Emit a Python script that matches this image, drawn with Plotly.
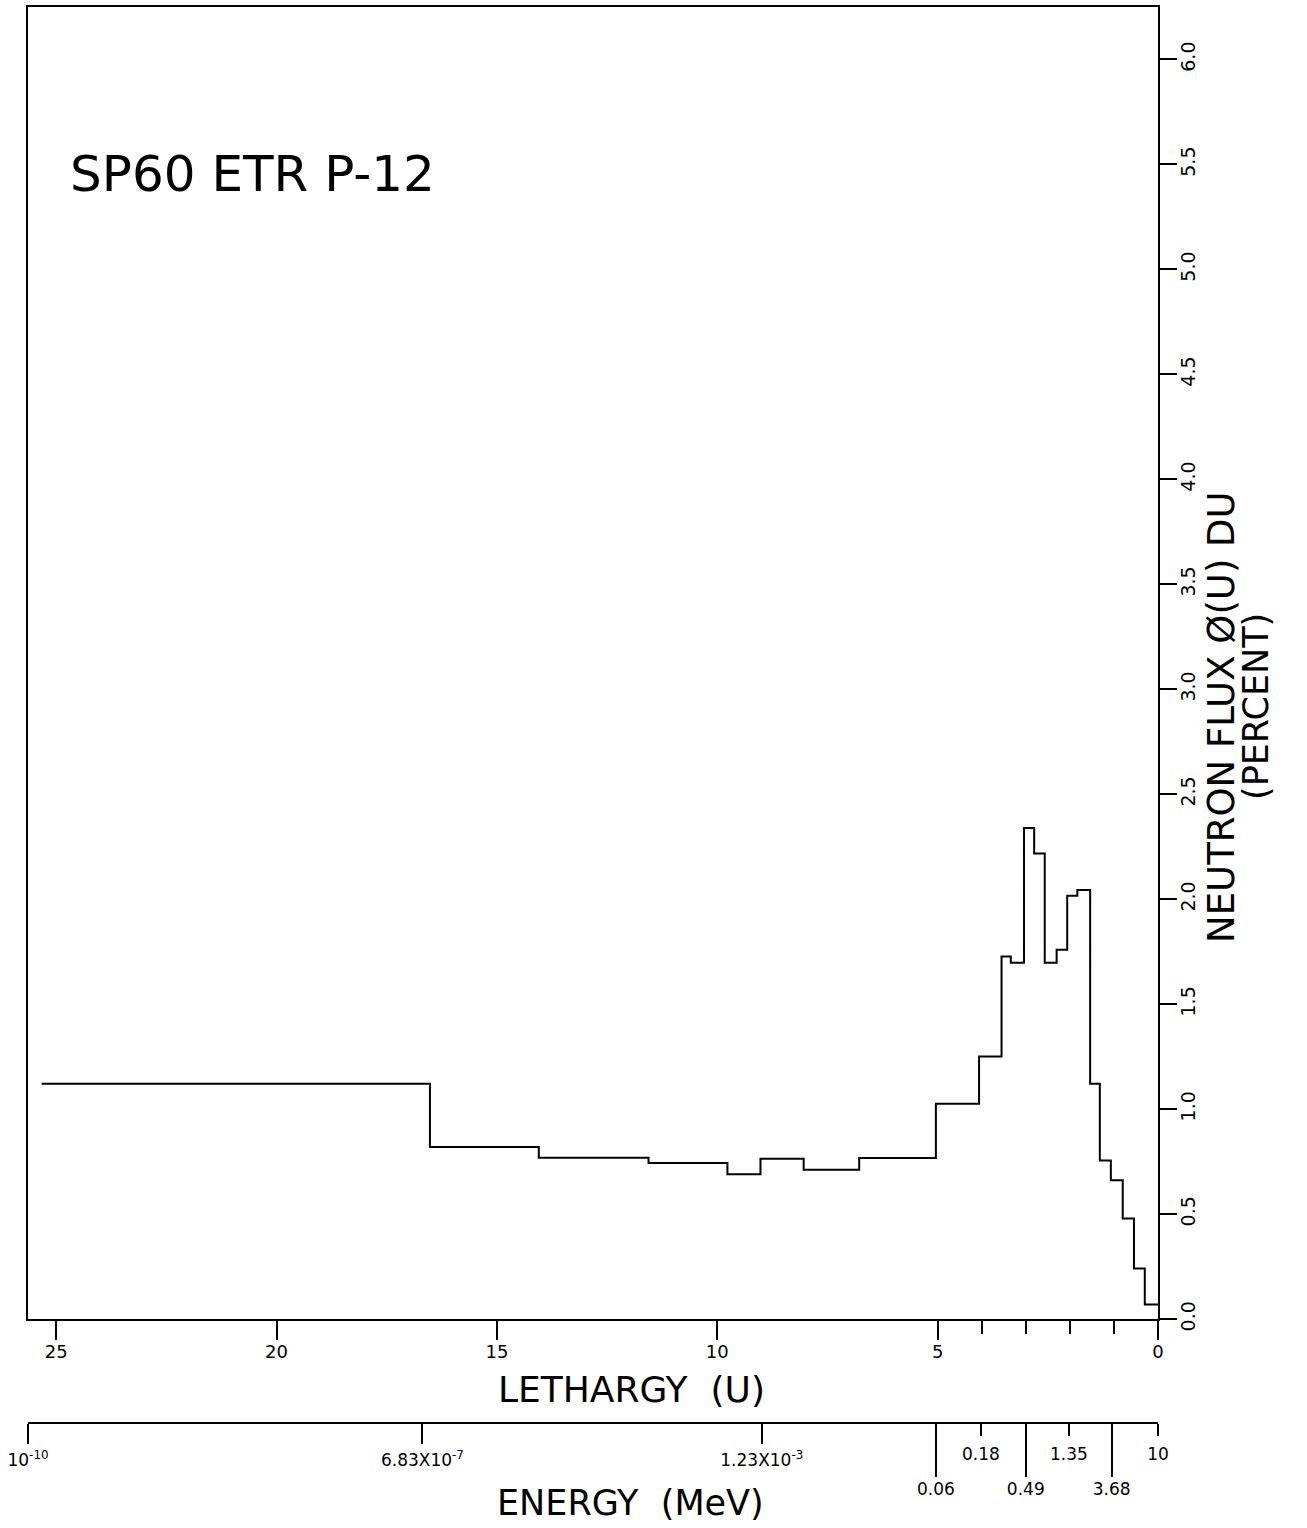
import plotly.graph_objects as go

# ---------------- data ----------------
# lethargy group boundaries (U), high lethargy -> low lethargy
edges_u = [25.33, 16.52, 14.05, 11.56, 9.77, 9.02, 8.04, 6.78, 5.04, 4.06,
           3.55, 3.34, 3.04, 2.81, 2.57, 2.30, 2.06, 1.83, 1.54, 1.32,
           1.07, 0.80, 0.545, 0.30, 0.0]
# neutron flux per group (percent)
flux = [1.121, 0.820, 0.769, 0.744, 0.690, 0.764, 0.712, 0.767, 1.026, 1.251,
        1.727, 1.697, 2.339, 2.218, 1.697, 1.759, 2.017, 2.044, 1.121, 0.756,
        0.661, 0.479, 0.241, 0.070]

leth_ticks = [25, 20, 15, 10, 5, 0]
leth_minor = [4, 3, 2, 1]
flux_ticks = [0.0, 0.5, 1.0, 1.5, 2.0, 2.5, 3.0, 3.5, 4.0, 4.5, 5.0, 5.5, 6.0]
flux_ticktext = ["0.0", "0.5", "1.0", "1.5", "2.0", "2.5", "3.0", "3.5",
                 "4.0", "4.5", "5.0", "5.5", "6.0"]

# energy scale (MeV) ticks placed at lethargy positions
energy_a_u = [25.64, 16.69, 8.99]
energy_a_text = ["10<sup>-10</sup>", "6.83X10<sup>-7</sup>", "1.23X10<sup>-3</sup>"]
energy_b_u = [4.02, 2.02, 0.0]
energy_b_text = ["0.18", "1.35", "10"]
energy_c_u = [5.04, 3.00, 1.05]
energy_c_text = ["0.06", "0.49", "3.68"]

X_RANGE = [25.64, 0.0]
Y_RANGE = [0.0, 6.25]

FONT = "DejaVu Sans"
BLACK = "#000000"

fig = go.Figure()

fig.add_trace(go.Scatter(
    x=edges_u,
    y=flux + [flux[-1]],
    mode="lines",
    line=dict(color=BLACK, width=2, shape="hv"),
    showlegend=False,
    hoverinfo="skip",
))

# empty traces to activate the energy axes
for ax in ["x2", "x3", "x4"]:
    fig.add_trace(go.Scatter(x=[None], y=[None], xaxis=ax, yaxis="y",
                             mode="lines", showlegend=False, hoverinfo="skip"))

W, H = 1307, 1528
ML, MR, MT, MB = 28, 149, 5, 105
paper_h = H - MT - MB
plot_bottom_px = 1319
dom0 = (H - MB - plot_bottom_px) / paper_h

common_energy = dict(
    overlaying="x", anchor="free", position=0, range=X_RANGE,
    autorange=False, tickmode="array", ticks="outside",
    tickcolor=BLACK, tickwidth=1.5, showgrid=False, zeroline=False,
    tickfont=dict(family=FONT, size=17, color=BLACK),
)

fig.update_layout(
    width=W, height=H,
    margin=dict(l=ML, r=MR, t=MT, b=MB),
    paper_bgcolor="white", plot_bgcolor="white",
    xaxis=dict(
        range=X_RANGE, autorange=False,
        tickmode="array", tickvals=leth_ticks,
        ticktext=[str(v) for v in leth_ticks],
        ticks="outside", ticklen=19, tickwidth=1.5, tickcolor=BLACK,
        ticklabelstandoff=-4,
        minor=dict(tickmode="array", tickvals=leth_minor, ticks="outside",
                   ticklen=13, tickwidth=1.5, tickcolor=BLACK),
        showline=True, linecolor=BLACK, linewidth=2, mirror=True,
        showgrid=False, zeroline=False, anchor="y",
        tickfont=dict(family=FONT, size=18, color=BLACK),
    ),
    yaxis=dict(
        range=Y_RANGE, autorange=False, domain=[dom0, 1],
        side="right", anchor="x",
        tickmode="array", tickvals=flux_ticks, ticktext=flux_ticktext,
        ticks="outside", ticklen=17, tickwidth=1.5, tickcolor=BLACK,
        tickangle=-90, ticklabelstandoff=-5,
        showline=True, linecolor=BLACK, linewidth=2, mirror=True,
        showgrid=False, zeroline=False,
        tickfont=dict(family=FONT, size=19, color=BLACK),
    ),
    xaxis2=dict(common_energy, tickvals=energy_a_u, ticktext=energy_a_text,
                ticklen=20, showline=True, linecolor=BLACK, linewidth=2,
                ticklabelstandoff=2),
    xaxis3=dict(common_energy, tickvals=energy_b_u, ticktext=energy_b_text,
                ticklen=12, showline=False, ticklabelstandoff=4),
    xaxis4=dict(common_energy, tickvals=energy_c_u, ticktext=energy_c_text,
                ticklen=53, showline=False, ticklabelstandoff=-2),
)

def py(px):
    return (H - MB - px) / paper_h

def pxx(px):
    return (px - ML) / (W - ML - MR)

annotations = [
    dict(text="SP60 ETR P-12", x=pxx(68), y=py(172), xanchor="left",
         yanchor="middle", font=dict(family=FONT, size=50, color=BLACK)),
    dict(text="LETHARGY  (U)", x=pxx(631), y=py(1389), xanchor="center",
         yanchor="middle", font=dict(family=FONT, size=36, color=BLACK)),
    dict(text="ENERGY  (MeV)", x=pxx(630), y=py(1503), xanchor="center",
         yanchor="middle", font=dict(family=FONT, size=35, color=BLACK)),
    dict(text="NEUTRON FLUX Ø(U) DU", x=pxx(1222), y=py(716), textangle=-90,
         xanchor="center", yanchor="middle",
         font=dict(family=FONT, size=37, color=BLACK)),
    dict(text="(PERCENT)", x=pxx(1256), y=py(706), textangle=-90,
         xanchor="center", yanchor="middle",
         font=dict(family=FONT, size=35, color=BLACK)),
]
for a in annotations:
    a.update(xref="paper", yref="paper", showarrow=False)
fig.update_layout(annotations=annotations)

fig.write_html("out.html")
